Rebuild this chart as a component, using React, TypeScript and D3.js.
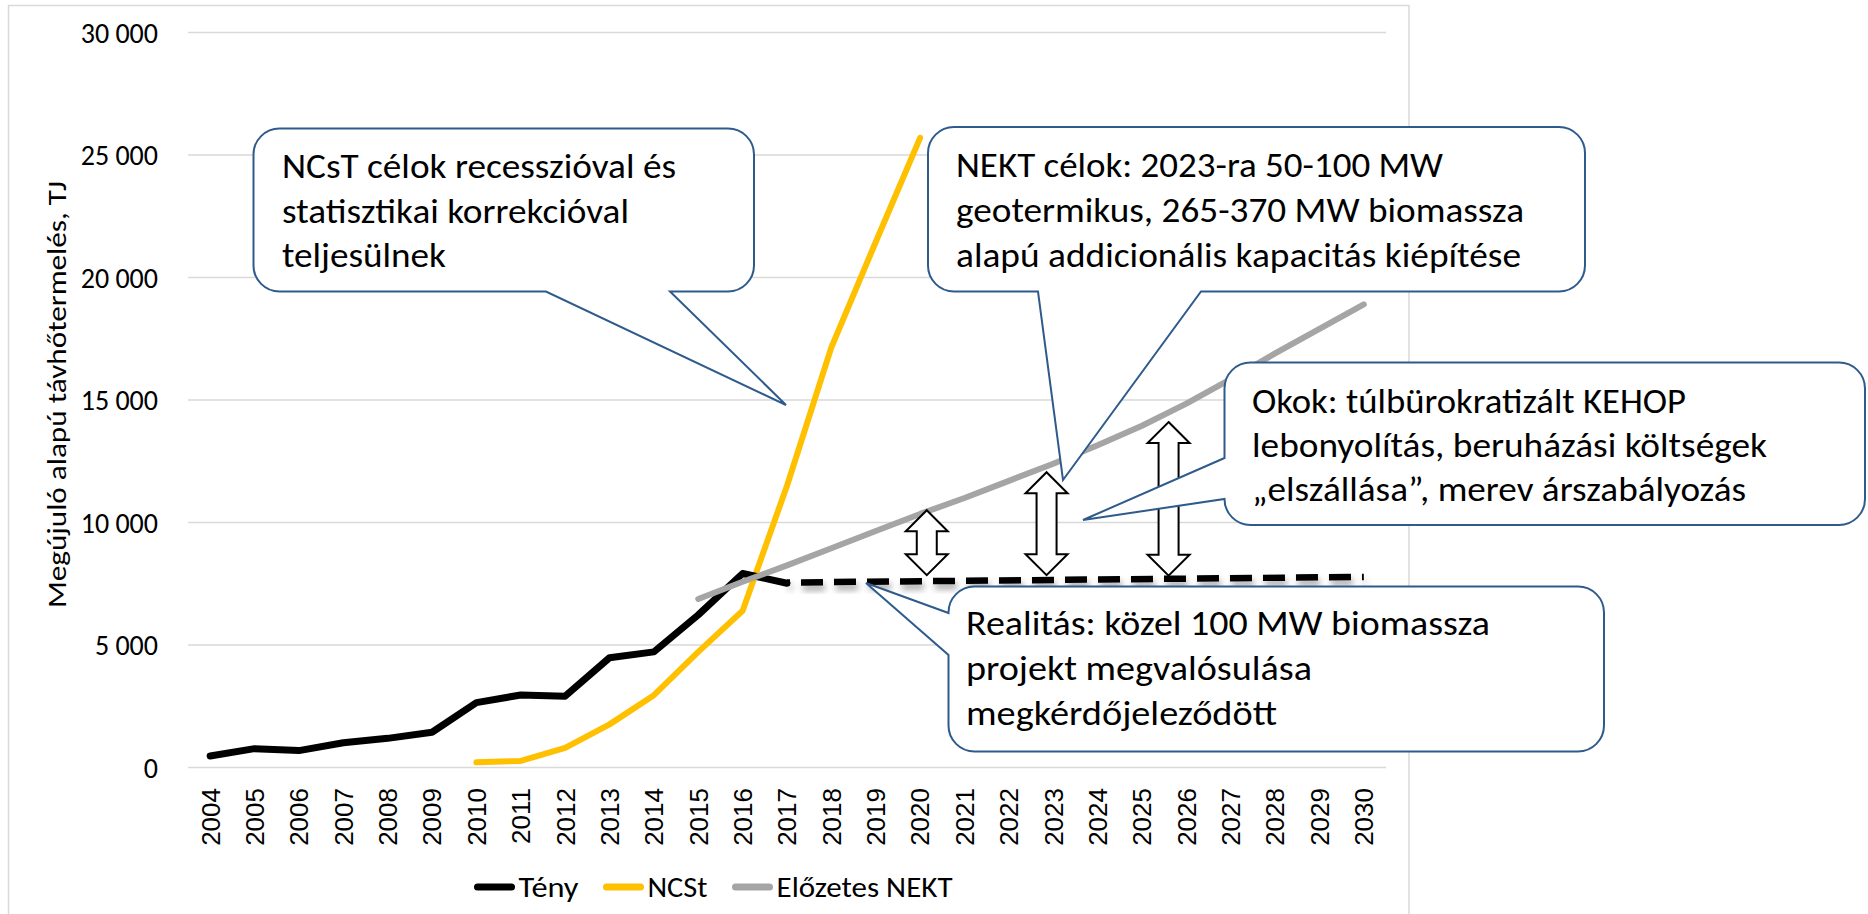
import React, { useEffect, useRef } from "react";
import * as d3 from "d3";

// categories and values
const years = ["2004", "2005", "2006", "2007", "2008", "2009", "2010", "2011", "2012",
  "2013", "2014", "2015", "2016", "2017", "2018", "2019", "2020", "2021", "2022",
  "2023", "2024", "2025", "2026", "2027", "2028", "2029", "2030"];
const yTicks = [0, 5000, 10000, 15000, 20000, 25000, 30000];

const tenyYears = ["2004", "2005", "2006", "2007", "2008", "2009", "2010", "2011", "2012", "2013", "2014", "2015", "2016", "2017"];
const tenyValues = [470, 770, 690, 1010, 1190, 1440, 2650, 2960, 2910, 4480, 4720, 6230, 7920, 7520];

const ncstYears = ["2010", "2011", "2012", "2013", "2014", "2015", "2016", "2017", "2018", "2019", "2020"];
const ncstValues = [210, 270, 800, 1760, 2950, 4720, 6400, 11500, 17150, 21450, 25700];

const nektYears = ["2015", "2016", "2017", "2018", "2019", "2020", "2021", "2022", "2023", "2024", "2025", "2026", "2027", "2028", "2029", "2030"];
const nektValues = [6880, 7580, 8250, 8950, 9650, 10350, 11000, 11700, 12400, 13150, 13950, 14850, 15850, 16900, 17900, 18900];

// dashed "reality" line
const realitasYears = ["2017", "2030"];
const realitasValues = [7550, 7780];

// gap arrows between the plan and the reality line
const arrowYears = [2020.15, 2022.85, 2025.6];
const arrowTops = [10500, 12050, 14100];
const arrowBottoms = [7850, 7850, 7830];

const legendItems = ["Tény", "NCSt", "Előzetes NEKT"];
const legendColors = ["#000000", "#FFC000", "#A5A5A5"];

const W = 1868;
const H = 914;
const plot = { left: 188, right: 1386, top: 32.5, bottom: 767.5 };
const calloutFont = "Calibri, Carlito, Lato, sans-serif";
const stroke = "#2F5B8C";

// annotation boxes (text + box geometry)
const callouts = [
  {
    box: [253.5, 128.5, 754, 291.5],
    tail: { edge: "bottom", a: 546, b: 670, tip: [786, 405] },
    x: 282,
    lines: [
      ["NCsT célok recesszióval és", 178, 394],
      ["statisztikai korrekcióval", 223, 347],
      ["teljesülnek", 267, 164],
    ],
  },
  {
    box: [928, 127, 1585, 291.5],
    tail: { edge: "bottom", a: 1038, b: 1201, tip: [1063, 480] },
    x: 956,
    lines: [
      ["NEKT célok: 2023-ra 50-100 MW", 177, 487],
      ["geotermikus, 265-370 MW biomassza", 222, 568],
      ["alapú addicionális kapacitás kiépítése", 267, 565],
    ],
  },
  {
    box: [1224.5, 362.5, 1865, 525],
    tail: { edge: "left", a: 458, b: 499, tip: [1083, 520] },
    x: 1252,
    lines: [
      ["Okok: túlbürokratizált KEHOP", 413, 434],
      ["lebonyolítás, beruházási költségek", 457, 515],
      ["„elszállása”, merev árszabályozás", 501, 494],
    ],
  },
  {
    box: [948.5, 586.5, 1604, 751.5],
    tail: { edge: "left", a: 613, b: 655, tip: [866, 583] },
    x: 966,
    lines: [
      ["Realitás: közel 100 MW biomassza", 635, 524],
      ["projekt megvalósulása", 680, 346],
      ["megkérdőjeleződött", 725, 311],
    ],
  },
];

function calloutPath(c: any) {
  const [x0, y0, x1, y1] = c.box;
  const r = 26;
  const t = c.tail;
  let p = `M${x0 + r},${y0} H${x1 - r} A${r},${r} 0 0 1 ${x1},${y0 + r} V${y1 - r} A${r},${r} 0 0 1 ${x1 - r},${y1}`;
  if (t.edge === "bottom") {
    p += ` H${t.b} L${t.tip[0]},${t.tip[1]} L${t.a},${y1} H${x0 + r} A${r},${r} 0 0 1 ${x0},${y1 - r} V${y0 + r}`;
  } else {
    p += ` H${x0 + r} A${r},${r} 0 0 1 ${x0},${y1 - r} V${t.b} L${t.tip[0]},${t.tip[1]} L${x0},${t.a} V${y0 + r}`;
  }
  p += ` A${r},${r} 0 0 1 ${x0 + r},${y0} Z`;
  return p;
}

function App() {
  const ref = useRef<SVGSVGElement>(null);

  useEffect(() => {
    const svg = d3.select(ref.current);
    svg.selectAll("*").remove();

    const x = d3.scaleBand().domain(years).range([plot.left, plot.right]).padding(0);
    const xc = (d: string) => (x(d) as number) + x.bandwidth() / 2;
    const xYear = d3.scaleLinear().domain([2004, 2030]).range([xc("2004"), xc("2030")]);
    const y = d3.scaleLinear().domain([0, 30000]).range([plot.bottom, plot.top]);

    const defs = svg.append("defs");
    const f = defs.append("filter").attr("id", "shadow").attr("x", "-5%").attr("y", "-200%").attr("width", "110%").attr("height", "500%");
    f.append("feDropShadow").attr("dx", 2).attr("dy", 5).attr("stdDeviation", 3)
      .attr("flood-color", "#000").attr("flood-opacity", 0.35);

    // chart area border
    svg.append("rect").attr("x", 8.5).attr("y", 5.5).attr("width", 1400.5).attr("height", 940)
      .attr("fill", "#fff").attr("stroke", "#d9d9d9").attr("stroke-width", 1.5);

    // gridlines
    svg.append("g").selectAll("line").data(yTicks).join("line")
      .attr("x1", plot.left).attr("x2", plot.right)
      .attr("y1", (d) => y(d)).attr("y2", (d) => y(d))
      .attr("stroke", "#d9d9d9").attr("stroke-width", 1.5);

    // y tick labels
    const fmt = (v: number) => d3.format(",")(v).replace(/,/g, " ");
    svg.append("g").selectAll("text").data(yTicks).join("text")
      .attr("x", 158).attr("y", (d) => y(d)).attr("dy", "0.36em")
      .attr("text-anchor", "end").attr("font-family", calloutFont).attr("font-size", 28)
      .attr("fill", "#000").text((d) => fmt(d));

    // x tick labels (rotated)
    svg.append("g").selectAll("text").data(years).join("text")
      .attr("transform", (d) => `translate(${xc(d)},788) rotate(-90)`)
      .attr("dy", "0.36em").attr("text-anchor", "end")
      .attr("font-family", "'Liberation Sans', Arial, sans-serif").attr("font-size", 26)
      .attr("fill", "#000").text((d) => d);

    // y axis title
    svg.append("text")
      .attr("transform", `translate(66,${(608 + 181) / 2}) rotate(-90)`)
      .attr("text-anchor", "middle").attr("font-family", calloutFont).attr("font-size", 27)
      .attr("textLength", 427).attr("lengthAdjust", "spacingAndGlyphs")
      .text("Megújuló alapú távhőtermelés, TJ");

    const line = d3.line<[string, number]>().x((d) => xc(d[0])).y((d) => y(d[1]));
    const series = [
      { yrs: ncstYears, vals: ncstValues, color: "#FFC000", w: 6 },
      { yrs: tenyYears, vals: tenyValues, color: "#000000", w: 7 },
      { yrs: nektYears, vals: nektValues, color: "#A5A5A5", w: 6 },
    ];
    series.forEach((s) => {
      svg.append("path")
        .datum(d3.zip(s.yrs, s.vals) as [string, number][])
        .attr("fill", "none").attr("stroke", s.color).attr("stroke-width", s.w)
        .attr("stroke-linejoin", "round").attr("stroke-linecap", "round")
        .attr("d", line);
    });

    // dashed reality line with shadow
    svg.append("path")
      .datum(d3.zip(realitasYears, realitasValues) as [string, number][])
      .attr("fill", "none").attr("stroke", "#000").attr("stroke-width", 6.5)
      .attr("stroke-dasharray", "22 11").attr("stroke-dashoffset", 19)
      .attr("filter", "url(#shadow)")
      .attr("d", line);

    // double arrows
    const hw = 21, sw = 10, hl = 21;
    svg.append("g").selectAll("polygon").data(arrowYears).join("polygon")
      .attr("points", (d, i) => {
        const cx = xYear(d);
        const t = y(arrowTops[i]);
        const b = y(arrowBottoms[i]);
        return [
          [cx, t], [cx + hw, t + hl], [cx + sw, t + hl], [cx + sw, b - hl], [cx + hw, b - hl],
          [cx, b], [cx - hw, b - hl], [cx - sw, b - hl], [cx - sw, t + hl], [cx - hw, t + hl],
        ].map((p) => p.join(",")).join(" ");
      })
      .attr("fill", "#fff").attr("stroke", "#000").attr("stroke-width", 2)
      .attr("stroke-linejoin", "miter");

    // callouts
    callouts.forEach((c) => {
      const g = svg.append("g");
      g.append("path").attr("d", calloutPath(c))
        .attr("fill", "#fff").attr("stroke", stroke).attr("stroke-width", 2);
      c.lines.forEach((l: any) => {
        g.append("text").attr("x", c.x).attr("y", l[1])
          .attr("font-family", calloutFont).attr("font-size", 34).attr("fill", "#000")
          .attr("textLength", l[2]).attr("lengthAdjust", "spacingAndGlyphs")
          .text(l[0]);
      });
    });

    // legend
    const legendX = [477.5, 606.5, 735.5];
    const legendTextW = [60, 60, 176];
    const lg = svg.append("g");
    legendItems.forEach((name, i) => {
      lg.append("line").attr("x1", legendX[i]).attr("x2", legendX[i] + 34)
        .attr("y1", 887).attr("y2", 887)
        .attr("stroke", legendColors[i]).attr("stroke-width", 7).attr("stroke-linecap", "round");
      lg.append("text").attr("x", legendX[i] + 41).attr("y", 887).attr("dy", "0.36em")
        .attr("font-family", calloutFont).attr("font-size", 29)
        .attr("textLength", legendTextW[i]).attr("lengthAdjust", "spacingAndGlyphs")
        .text(name);
    });
  }, []);

  return (
    <svg ref={ref} width={W} height={H}
      style={{ position: "absolute", left: 0, top: 0, display: "block", background: "#fff" }} />
  );
}

export default App;
